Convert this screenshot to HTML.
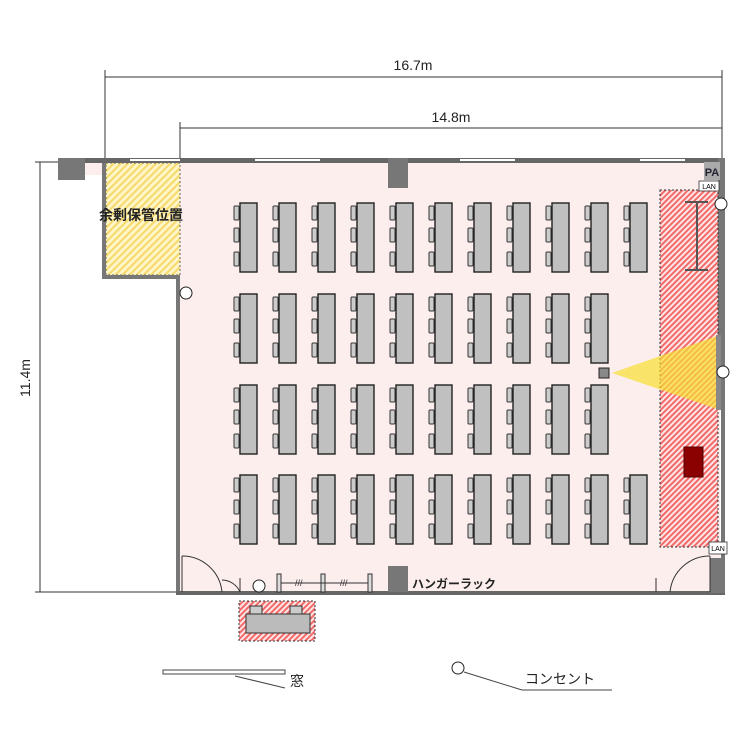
<!DOCTYPE html>
<html><head><meta charset="utf-8"><style>body{margin:0;background:#fff}svg{display:block}</style></head><body>
<svg width="750" height="750" viewBox="0 0 750 750" xmlns="http://www.w3.org/2000/svg" font-family="'Liberation Sans','Noto Sans CJK JP',sans-serif">
<defs>
<pattern id="rh" width="4" height="4" patternUnits="userSpaceOnUse" patternTransform="rotate(45)"><rect width="4" height="4" fill="#fde6e6"/><rect width="2" height="4" fill="#f26a6a"/></pattern>
<pattern id="yh" width="5" height="5" patternUnits="userSpaceOnUse" patternTransform="rotate(45)"><rect width="5" height="5" fill="#fff6c8"/><rect width="2" height="5" fill="#f7d86a"/></pattern>
<g id="d">
<rect x="-6" y="3" width="5" height="14" rx="1" fill="#ccc" stroke="#333" stroke-width="1"/>
<rect x="-6" y="25" width="5" height="14" rx="1" fill="#ccc" stroke="#333" stroke-width="1"/>
<rect x="-6" y="49" width="5" height="14" rx="1" fill="#ccc" stroke="#333" stroke-width="1"/>
<rect x="0" y="0" width="17" height="69" fill="#c0c0c0" stroke="#222" stroke-width="1.4"/>
</g>
</defs>
<line x1="105" y1="77" x2="722" y2="77" stroke="#333"/>
<line x1="105" y1="70" x2="105" y2="165" stroke="#333"/>
<line x1="722" y1="70" x2="722" y2="160" stroke="#333"/>
<text x="413" y="70" font-size="14" text-anchor="middle" fill="#222">16.7m</text>
<line x1="180" y1="128" x2="722" y2="128" stroke="#333"/>
<line x1="180" y1="122" x2="180" y2="165" stroke="#333"/>
<text x="451" y="122" font-size="14" text-anchor="middle" fill="#222">14.8m</text>
<line x1="40" y1="162" x2="40" y2="592" stroke="#333"/>
<line x1="35" y1="162" x2="65" y2="162" stroke="#333"/>
<line x1="35" y1="592" x2="176" y2="592" stroke="#333"/>
<text x="30" y="378" font-size="14" text-anchor="middle" fill="#222" transform="rotate(-90 30 378)">11.4m</text>
<rect x="180" y="163" width="540" height="430" fill="#fdeeee"/>
<rect x="85" y="163" width="20" height="12" fill="#fdeeee"/>
<rect x="106" y="163" width="74" height="112" fill="url(#yh)" stroke="#666" stroke-dasharray="2,2"/>
<rect x="58" y="158" width="667" height="5" fill="#666"/>
<rect x="130" y="159" width="50" height="2" fill="#fff"/><rect x="255" y="159" width="65" height="2" fill="#fff"/><rect x="460" y="159" width="55" height="2" fill="#fff"/><rect x="640" y="159" width="45" height="2" fill="#fff"/>
<rect x="58" y="158" width="27" height="22" fill="#777"/>
<rect x="102" y="163" width="4" height="115" fill="#777"/>
<rect x="102" y="275" width="78" height="4" fill="#777"/>
<rect x="176" y="275" width="4" height="320" fill="#777"/>
<rect x="718" y="158" width="7" height="190" fill="#777"/>
<rect x="721" y="348" width="4" height="247" fill="#777"/>
<rect x="176" y="591" width="549" height="4" fill="#666"/>
<rect x="388" y="158" width="20" height="30" fill="#777"/>
<rect x="388" y="566" width="20" height="26" fill="#777"/>
<rect x="710" y="558" width="15" height="35" fill="#777"/>
<text x="141" y="220" font-size="14" font-weight="bold" text-anchor="middle" fill="#222">余剰保管位置</text>
<g>
<use href="#d" x="240" y="203"/><use href="#d" x="279" y="203"/><use href="#d" x="318" y="203"/><use href="#d" x="357" y="203"/><use href="#d" x="396" y="203"/><use href="#d" x="435" y="203"/><use href="#d" x="474" y="203"/><use href="#d" x="513" y="203"/><use href="#d" x="552" y="203"/><use href="#d" x="591" y="203"/><use href="#d" x="630" y="203"/>
<use href="#d" x="240" y="294"/><use href="#d" x="279" y="294"/><use href="#d" x="318" y="294"/><use href="#d" x="357" y="294"/><use href="#d" x="396" y="294"/><use href="#d" x="435" y="294"/><use href="#d" x="474" y="294"/><use href="#d" x="513" y="294"/><use href="#d" x="552" y="294"/><use href="#d" x="591" y="294"/>
<use href="#d" x="240" y="385"/><use href="#d" x="279" y="385"/><use href="#d" x="318" y="385"/><use href="#d" x="357" y="385"/><use href="#d" x="396" y="385"/><use href="#d" x="435" y="385"/><use href="#d" x="474" y="385"/><use href="#d" x="513" y="385"/><use href="#d" x="552" y="385"/><use href="#d" x="591" y="385"/>
<use href="#d" x="240" y="475"/><use href="#d" x="279" y="475"/><use href="#d" x="318" y="475"/><use href="#d" x="357" y="475"/><use href="#d" x="396" y="475"/><use href="#d" x="435" y="475"/><use href="#d" x="474" y="475"/><use href="#d" x="513" y="475"/><use href="#d" x="552" y="475"/><use href="#d" x="591" y="475"/><use href="#d" x="630" y="475"/>
</g>
<rect x="660" y="190" width="58" height="357" fill="url(#rh)" stroke="#333" stroke-dasharray="2,2"/>
<polygon points="612,373 720,335 720,410" fill="#f7e030" opacity="0.7"/>
<rect x="716" y="335" width="5" height="75" fill="#888"/>
<rect x="599" y="368" width="10" height="10" fill="#888" stroke="#222"/>
<line x1="697" y1="202" x2="697" y2="270" stroke="#555" stroke-width="2"/>
<line x1="685" y1="202" x2="708" y2="202" stroke="#555" stroke-width="2"/>
<line x1="685" y1="270" x2="708" y2="270" stroke="#555" stroke-width="2"/>
<rect x="684" y="447" width="19" height="30" fill="#8b0000" stroke="#500"/>
<rect x="704" y="162" width="16" height="18" fill="#aaa"/>
<text x="712" y="176" font-size="11" font-weight="bold" text-anchor="middle" fill="#223">PA</text>
<rect x="699" y="181" width="20" height="10" fill="#fff" stroke="#333" stroke-width="0.8"/>
<text x="709" y="189" font-size="7" text-anchor="middle">LAN</text>
<rect x="709" y="542" width="18" height="12" fill="#fff" stroke="#333" stroke-width="0.8"/>
<text x="718" y="551" font-size="7" text-anchor="middle">LAN</text>
<circle cx="721" cy="204" r="6" fill="#fff" stroke="#222"/><circle cx="723" cy="372" r="6" fill="#fff" stroke="#222"/>
<circle cx="186" cy="293" r="6" fill="#fff" stroke="#222"/>
<g fill="none" stroke="#333">
<line x1="182" y1="592" x2="182" y2="556"/><path d="M182 556 A40 40 0 0 1 222 592"/>
<path d="M240 592 A20 20 0 0 0 222 580"/>
<line x1="240" y1="578" x2="240" y2="592"/>
<line x1="710" y1="592" x2="710" y2="556"/><path d="M710 556 A40 40 0 0 0 670 592"/>
<line x1="656" y1="578" x2="656" y2="592"/>
</g>
<circle cx="259" cy="586" r="6" fill="#fff" stroke="#222"/>
<g stroke="#333" fill="#ddd">
<rect x="277" y="574" width="4" height="18"/><rect x="321" y="574" width="4" height="18"/><rect x="368" y="574" width="4" height="18"/>
<line x1="281" y1="583" x2="368" y2="583"/>
</g>
<text x="295" y="586" font-size="9" fill="#333">///</text><text x="340" y="586" font-size="9" fill="#333">///</text>
<text x="412" y="588" font-size="12" font-weight="bold" fill="#222">ハンガーラック</text>
<rect x="239" y="601" width="76" height="40" fill="url(#rh)" stroke="#333" stroke-dasharray="2,2"/>
<rect x="250" y="606" width="12" height="8" fill="#ccc" stroke="#333"/><rect x="290" y="606" width="12" height="8" fill="#ccc" stroke="#333"/>
<rect x="246" y="614" width="64" height="19" fill="#bbb" stroke="#333"/>
<rect x="163" y="670" width="122" height="4" fill="#fff" stroke="#444"/>
<line x1="235" y1="676" x2="285" y2="688" stroke="#444"/>
<text x="290" y="686" font-size="14" fill="#222">窓</text>
<circle cx="458" cy="668" r="6" fill="#fff" stroke="#222"/>
<line x1="464" y1="672" x2="522" y2="690" stroke="#444"/>
<line x1="522" y1="690" x2="612" y2="690" stroke="#444"/>
<text x="525" y="684" font-size="14" fill="#222">コンセント</text>
</svg>
</body></html>
